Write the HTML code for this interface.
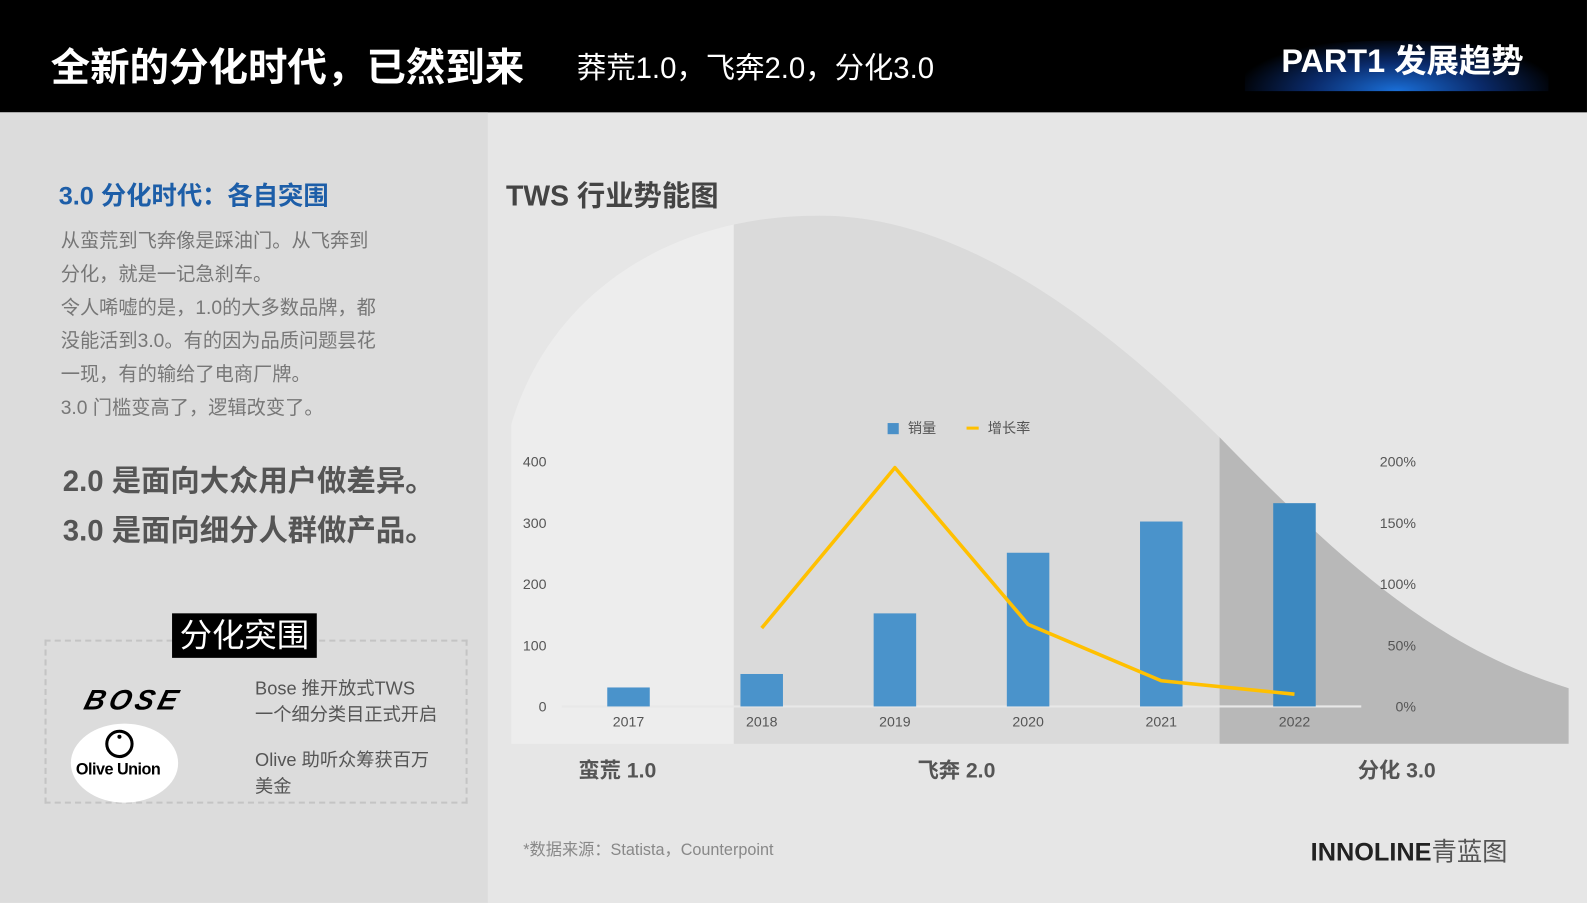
<!DOCTYPE html>
<html><head><meta charset="utf-8"><style>
*{margin:0;padding:0;box-sizing:border-box}
body{width:1587px;height:892px;overflow:hidden;background:#e6e6e6;font-family:"Liberation Sans","Noto Sans CJK SC",sans-serif;position:relative}
#root{position:absolute;left:0;top:0;width:1568px;height:882px;transform:scale(1.0121);transform-origin:0 0}
.a{position:absolute;white-space:nowrap}
</style></head><body>
<div id="root">
<div class="a" style="left:0;top:0;width:1568px;height:111px;background:#000"></div>
<div class="a" style="left:50px;top:36px;font-size:39px;font-weight:bold;color:#fff">全新的分化时代，已然到来</div>
<div class="a" style="left:570px;top:44px;font-size:29px;color:#fff">莽荒1.0，飞奔2.0，分化3.0</div>
<div class="a" style="left:1230px;top:40px;width:300px;height:50px;border-radius:50% 50% 0 0;background:radial-gradient(ellipse at 50% 100%,#1a6fd8 0%,#0a2a6a 40%,rgba(0,0,0,0) 75%)"></div>
<div class="a" style="left:1266px;top:35px;font-size:32px;font-weight:bold;color:#fff">PART1 发展趋势</div>
<div class="a" style="left:0;top:111px;width:482px;height:781px;background:#dcdcdc"></div>
<div class="a" style="left:58px;top:174px;font-size:25px;font-weight:bold;color:#1d5ea8">3.0 分化时代：各自突围</div>
<div class="a" style="left:60px;top:222px;font-size:19px;line-height:33px;color:#777">从蛮荒到飞奔像是踩油门。从飞奔到<br>分化，就是一记急刹车。<br>令人唏嘘的是，1.0的大多数品牌，都<br>没能活到3.0。有的因为品质问题昙花<br>一现，有的输给了电商厂牌。<br>3.0 门槛变高了，逻辑改变了。</div>
<div class="a" style="left:62px;top:452px;font-size:29px;line-height:49px;font-weight:bold;color:#555">2.0 是面向大众用户做差异。<br>3.0 是面向细分人群做产品。</div>
<div class="a" style="left:44px;top:632px;width:418px;height:162px;border:2px dashed #c4c4c4"></div>
<div class="a" style="left:170px;top:606px;width:143px;height:44px;background:#000;color:#fff;font-size:32px;line-height:44px;text-align:center">分化突围</div>
<div class="a" style="left:84px;top:676px;font-size:28px;font-weight:bold;font-style:italic;color:#000;letter-spacing:4px;transform:skewX(-15deg)">BOSE</div>
<div class="a" style="left:252px;top:667px;font-size:18px;line-height:26px;color:#555">Bose 推开放式TWS<br>一个细分类目正式开启</div>
<div class="a" style="left:70px;top:715px;width:106px;height:78px;border-radius:50%;background:#fff"></div>
<div class="a" style="left:104px;top:721px;width:28px;height:28px;border:3px solid #000;border-radius:50%"></div>
<div class="a" style="left:116px;top:726px;width:4px;height:4px;background:#000;border-radius:50%"></div>
<div class="a" style="left:75px;top:752px;font-size:16px;font-weight:bold;letter-spacing:-0.5px">Olive Union</div>
<div class="a" style="left:252px;top:738px;font-size:18px;line-height:26px;color:#555">Olive 助听众筹获百万<br>美金</div>
<div class="a" style="left:500px;top:172px;font-size:28px;font-weight:bold;color:#444">TWS 行业势能图</div>
<svg class="a" style="left:0;top:0" width="1568" height="882">
<defs><clipPath id="bell"><path d="M505,735 L505,420 C540,300 650,213 810,213 C960,213 1100,330 1205,432 C1330,560 1420,640 1550,680 L1550,735 Z"/></clipPath></defs>
<g clip-path="url(#bell)">
<rect x="505" y="200" width="220" height="540" fill="#ededed"/>
<rect x="725" y="200" width="480" height="540" fill="#dadada"/>
<rect x="1205" y="200" width="350" height="540" fill="#b8b8b8"/>
</g>
<g id="plot"></g>
<text x="610" y="768" font-size="21" font-weight="bold" fill="#555" text-anchor="middle">蛮荒 1.0</text>
<text x="945" y="768" font-size="21" font-weight="bold" fill="#555" text-anchor="middle">飞奔 2.0</text>
<text x="1380" y="768" font-size="21" font-weight="bold" fill="#555" text-anchor="middle">分化 3.0</text>
<rect x="877" y="418" width="11" height="11" fill="#4a90c8"/>
<text x="897" y="428" font-size="14" fill="#555">销量</text>
<line x1="955" y1="423" x2="967" y2="423" stroke="#ffc000" stroke-width="3"/>
<text x="976" y="428" font-size="14" fill="#555">增长率</text>
</svg>
<div class="a" style="left:517px;top:826px;font-size:16px;color:#888">*数据来源：Statista，Counterpoint</div>
<div class="a" style="left:1295px;top:822px;font-size:25px;color:#222"><b>INNOLINE</b><span style="color:#555">青蓝图</span></div>
</div>
<script>
const years=['2017','2018','2019','2020','2021','2022'];
const sales=[31,53,152,251,302,332];
const growth=[null,64,195,67,21,10];
const leftTicks=[0,100,200,300,400];
const rightTicks=['0%','50%','100%','150%','200%'];
const NS='http://www.w3.org/2000/svg';
const g=document.getElementById('plot');
const x=i=>621+i*131.6;
const yL=v=>698-v*242/400;
const yR=v=>698-v*242/200;
function el(t,a){const e=document.createElementNS(NS,t);for(const k in a)e.setAttribute(k,a[k]);g.appendChild(e);return e;}
const ax=el('line',{x1:555,y1:698,x2:1345,y2:698,stroke:'#e8e8e8','stroke-width':2});


leftTicks.forEach((v,i)=>{const t=el('text',{x:540,y:yL(v)+5,'font-size':14,fill:'#555','text-anchor':'end'});t.textContent=v;


const r=el('text',{x:1399,y:yR(i*50)+5,'font-size':14,fill:'#555','text-anchor':'end'});r.textContent=rightTicks[i];

});
years.forEach((yr,i)=>{const b=el('rect',{x:x(i)-21,y:yL(sales[i]),width:42,height:698-yL(sales[i]),fill:i==5?'#3c88c0':'#4a93cb'});


const t=el('text',{x:x(i),y:718,'font-size':14,fill:'#555','text-anchor':'middle'});t.textContent=yr;

});
let pts=[];growth.forEach((v,i)=>{if(v!==null)pts.push(x(i)+','+yR(v));});
const l=el('polyline',{points:pts.join(' '),fill:'none',stroke:'#ffc000','stroke-width':3.5,'stroke-linejoin':'round'});


</script>
</body></html>
